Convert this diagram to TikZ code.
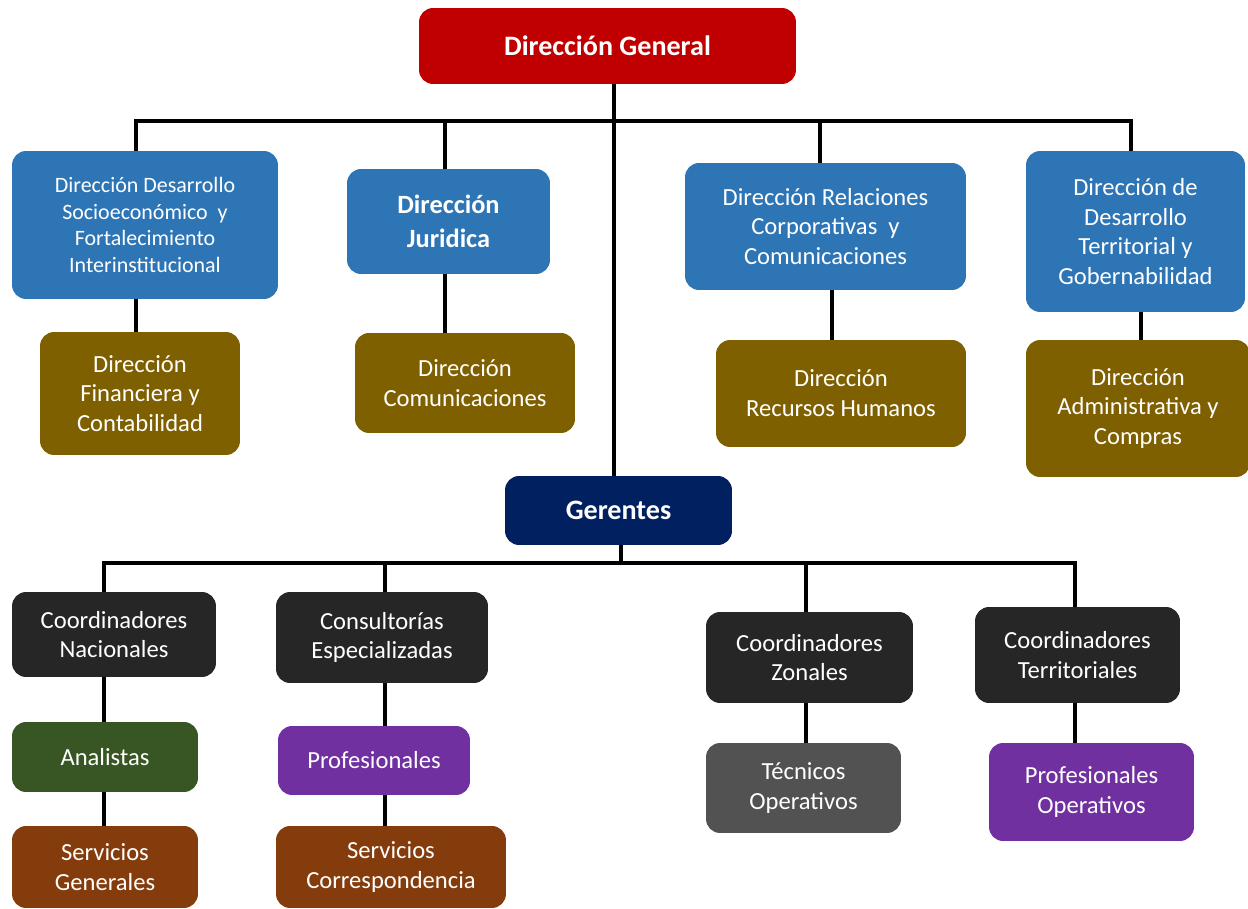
\documentclass[tikz,border=0pt]{standalone}
\usepackage{fontspec}
\setmainfont{Carlito}
\usepackage{xcolor}
\usepackage{tikz}
\usetikzlibrary{positioning}

\definecolor{dgred}{HTML}{C00000}
\definecolor{dirblue}{HTML}{2E75B6}
\definecolor{dirolive}{HTML}{7F6000}
\definecolor{gernavy}{HTML}{002060}
\definecolor{coordgray}{HTML}{262626}
\definecolor{anagreen}{HTML}{375623}
\definecolor{profpurple}{HTML}{7030A0}
\definecolor{tecgray}{HTML}{525252}
\definecolor{servbrown}{HTML}{843C0C}

\begin{document}
\begin{tikzpicture}[
    x=0.02cm, y=-0.02cm,
    box/.style={rectangle, rounded corners=8pt, align=center, text=white, inner sep=0pt, font=\fontsize{14}{17}\selectfont},
    topbox/.style={box, fill=dgred, font=\bfseries\fontsize{16}{19}\selectfont},
    dirbox/.style={box, fill=dirblue},
    subbox/.style={box, fill=dirolive},
    gerbox/.style={box, fill=gernavy, font=\bfseries\fontsize{16}{19}\selectfont},
    coordbox/.style={box, fill=coordgray},
    conn/.style={line width=2.2pt},
]
\useasboundingbox (0,0) rectangle (1248,909);

% Direccion General at top
\node[topbox, minimum width=7.54cm, minimum height=1.52cm] (dg) at (607.5,46) {Dirección General};

% Direcciones (blue)
\node[dirbox, minimum width=5.32cm, minimum height=2.96cm, font=\fontsize{12.5}{15.3}\selectfont] (b1) at (145,225)
    {Dirección Desarrollo\\Socioeconómico \ y\\Fortalecimiento\\Interinstitucional};
\node[dirbox, minimum width=4.06cm, minimum height=2.1cm, font=\bfseries\fontsize{15}{19}\selectfont] (b2) at (448.5,221.5) {Dirección\\Juridica};
\node[dirbox, minimum width=5.62cm, minimum height=2.54cm] (b3) at (825.5,226.5) {Dirección Relaciones\\Corporativas \ y\\Comunicaciones};
\node[dirbox, minimum width=4.38cm, minimum height=3.22cm] (b4) at (1135.5,231.5) {Dirección de\\Desarrollo\\Territorial y\\Gobernabilidad};

% Direcciones de apoyo (olive)
\node[subbox, minimum width=4cm, minimum height=2.46cm] (f1) at (140,393.5) {Dirección\\Financiera y\\Contabilidad};
\node[subbox, minimum width=4.4cm, minimum height=2cm] (f2) at (465,383) {Dirección\\Comunicaciones};
\node[subbox, minimum width=5cm, minimum height=2.14cm] (f3) at (841,393.5) {Dirección\\Recursos Humanos};
\node[subbox, minimum width=4.48cm, minimum height=2.74cm] (f4) at (1138,408.5) {Dirección\\Administrativa y\\Compras};

% Gerentes
\node[gerbox, minimum width=4.54cm, minimum height=1.38cm] (ger) at (618.5,510.5) {Gerentes};

% Coordinaciones
\node[coordbox, minimum width=4.08cm, minimum height=1.7cm] (cn) at (114,634.5) {Coordinadores\\Nacionales};
\node[coordbox, minimum width=4.24cm, minimum height=1.82cm] (ce) at (382,637.5) {Consultorías\\Especializadas};
\node[coordbox, minimum width=4.14cm, minimum height=1.82cm] (cz) at (809.5,657.5) {Coordinadores\\Zonales};
\node[coordbox, minimum width=4.1cm, minimum height=1.92cm] (ct) at (1077.5,655) {Coordinadores\\Territoriales};

% Personal
\node[box, fill=anagreen, minimum width=3.72cm, minimum height=1.4cm] (an) at (105,757) {Analistas};
\node[box, fill=profpurple, minimum width=3.84cm, minimum height=1.38cm] (pr) at (374,760.5) {Profesionales};
\node[box, fill=tecgray, minimum width=3.9cm, minimum height=1.8cm] (to) at (803.5,788) {Técnicos\\Operativos};
\node[box, fill=profpurple, minimum width=4.1cm, minimum height=1.96cm] (po) at (1091.5,792) {Profesionales\\Operativos};
\node[box, fill=servbrown, minimum width=3.72cm, minimum height=1.64cm] (sg) at (105,867) {Servicios\\Generales};
\node[box, fill=servbrown, minimum width=4.6cm, minimum height=1.64cm] (sc) at (391,867) {Servicios\\Correspondencia};

% Bus under Direccion General
\coordinate (trunk) at (614,121);
\coordinate (d1) at (136,121);
\coordinate (d2) at (445,121);
\coordinate (d3) at (820,121);
\coordinate (d4) at (1131,121);
\draw[conn] (d1 |- b1.north) -- (d1) -- (d4) -- (d4 |- b4.north);
\draw[conn] (d2) -- (d2 |- b2.north);
\draw[conn] (d3) -- (d3 |- b3.north);
\draw[conn] (trunk |- dg.south) -- (trunk |- ger.north);

% Direcciones to apoyo
\coordinate (s3) at (832,0);
\coordinate (s4) at (1141,0);
\draw[conn] (d1 |- b1.south) -- (d1 |- f1.north);
\draw[conn] (d2 |- b2.south) -- (d2 |- f2.north);
\draw[conn] (s3 |- b3.south) -- (s3 |- f3.north);
\draw[conn] (s4 |- b4.south) -- (s4 |- f4.north);

% Bus under Gerentes
\coordinate (g0) at (621,563);
\coordinate (c1) at (104,563);
\coordinate (c2) at (385,563);
\coordinate (c3) at (806,563);
\coordinate (c4) at (1075,563);
\draw[conn] (g0 |- ger.south) -- (g0);
\draw[conn] (c1 |- cn.north) -- (c1) -- (c4) -- (c4 |- ct.north);
\draw[conn] (c2) -- (c2 |- ce.north);
\draw[conn] (c3) -- (c3 |- cz.north);

% Coordinaciones to personal
\draw[conn] (c1 |- cn.south) -- (c1 |- an.north);
\draw[conn] (c1 |- an.south) -- (c1 |- sg.north);
\draw[conn] (c2 |- ce.south) -- (c2 |- pr.north);
\draw[conn] (c2 |- pr.south) -- (c2 |- sc.north);
\draw[conn] (c3 |- cz.south) -- (c3 |- to.north);
\draw[conn] (c4 |- ct.south) -- (c4 |- po.north);

\end{tikzpicture}
\end{document}
